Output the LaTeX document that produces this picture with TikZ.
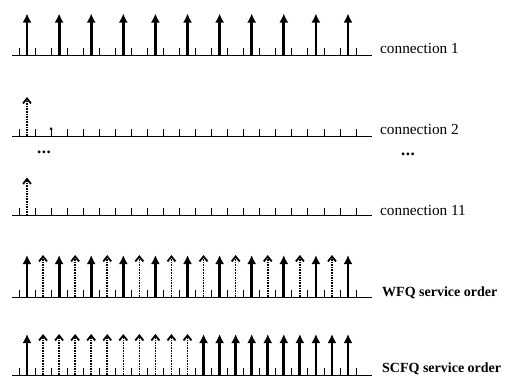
\documentclass[tikz,border=0pt]{standalone}
\usepackage{fontspec}
\setmainfont{Liberation Serif}
\usetikzlibrary{arrows.meta}

\begin{document}
\begin{tikzpicture}[x=1pt,y=-1pt,
  axis/.style={line width=1pt},
  tick/.style={line width=0.9pt},
  pkt/.style={line width=2.8pt,-{Latex[length=9pt,width=9pt]}},
  otherpkt/.style={line width=1.6pt,densely dotted,-{Straight Barb[length=5pt,width=8pt,line width=1.8pt]}},
  lab/.style={anchor=base west,inner sep=0pt,font=\fontsize{15.3}{18}\selectfont},
  blab/.style={lab,font=\fontsize{14}{17}\selectfont\bfseries},
  more/.style={inner sep=0pt,font=\fontsize{17}{20}\selectfont\bfseries}]
  \useasboundingbox (0,0) rectangle (506,375);
  \foreach \y in {55.5,136,215.5,297,375}{
    \draw[axis] (12,\y) -- (372,\y);
    \foreach \j in {0,...,21}
      \draw[tick] (19+16.05*\j,\y) -- ++(0,-7.5);
  }
  \foreach \k in {0,2,...,20}{
    \draw[pkt] (27+16.05*\k,55.5) -- ++(0,-42);
    \draw[pkt] (27+16.05*\k,297) -- ++(0,-42);
  }
  \foreach \k in {1,3,...,19}
    \draw[otherpkt] (27+16.05*\k,297) -- ++(0,-42);
  \draw[otherpkt] (27,136) -- ++(0,-39);
  \draw[line width=0.9pt,-{Latex[length=2.5pt,width=3.5pt]}] (51.1,136) -- ++(0,-9);
  \draw[otherpkt] (27,215.5) -- ++(0,-38);
  \foreach \k in {0,11,12,...,20}
    \draw[pkt] (27+16.05*\k,375) -- ++(0,-41);
  \foreach \k in {1,...,10}
    \draw[otherpkt] (27+16.05*\k,375) -- ++(0,-41);
  \node[lab] (conn1) at (380,53.5) {connection 1};
  \node[lab] (conn2) at (380,134.5) {connection 2};
  \node[lab] (conn11) at (380,215) {connection 11};
  \node[blab] (wfq) at (382,296) {WFQ service order};
  \node[blab] (scfq) at (382,372) {SCFQ service order};
  \node[more] (dotsl) at (44,152) {.\hspace{0.5pt}.\hspace{0.5pt}.};
  \node[more] (dotsr) at (408,154) {.\hspace{0.5pt}.\hspace{0.5pt}.};
\end{tikzpicture}
\end{document}
